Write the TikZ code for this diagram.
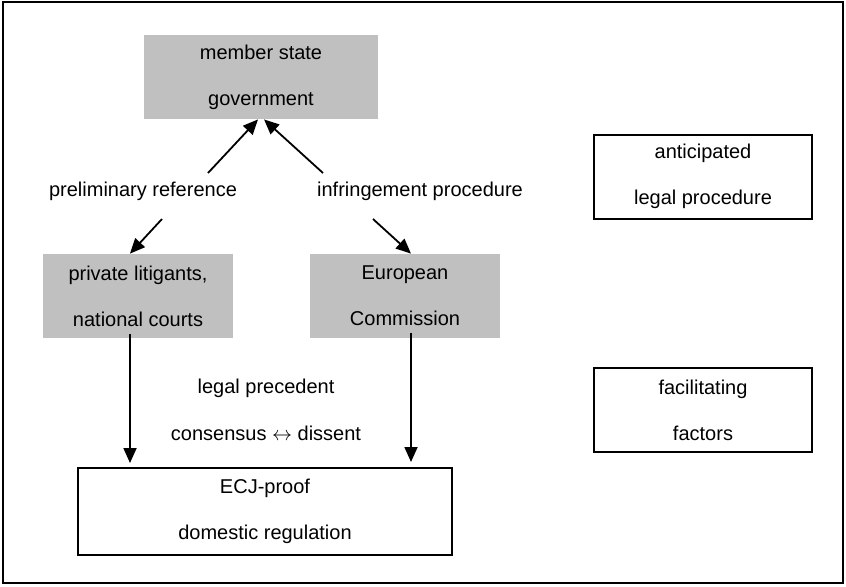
\documentclass[tikz,border=0pt]{standalone}
\usepackage{fontspec}
\setmainfont{Liberation Sans}
\usetikzlibrary{arrows.meta}
\definecolor{boxgray}{HTML}{C0C0C0}
\begin{document}
\begin{tikzpicture}[x=0.5pt,y=-0.5pt,
  txt/.style={font=\fontsize{10}{23}\selectfont, align=center, inner sep=0pt},
  graybox/.style={txt, fill=boxgray, minimum width=#1, minimum height=42pt},
  whitebox/.style={txt, draw=black, line width=1pt, fill=white, minimum height=42pt, minimum width=#1},
  arr/.style={line width=0.9pt, -{Triangle[length=7.5pt,width=6.5pt]}}]
\useasboundingbox (0,0) rectangle (846,586);
\draw[line width=1pt] (3,2) rectangle (843,583);

\node[graybox=117pt] (mem) at (261,77) {member state\\government};
\node[whitebox=109pt] (ant) at (703,176.5) {anticipated\\legal procedure};
\node[graybox=95pt] (prv) at (138,296) {private litigants,\\national courts};
\node[graybox=95pt] (ec) at (405,296) {European\\Commission};
\node[whitebox=109pt] (fac) at (703,410) {facilitating\\factors};
\node[whitebox=187pt, minimum height=43.5pt] (ecj) at (265,511.5) {ECJ-proof\\domestic regulation};

\node[txt] (pr) at (143,191) {preliminary reference};
\node[txt] (ip) at (420,191) {infringement procedure};
\node[txt] (lp) at (266,388) {legal precedent};
\node[txt] (cd) at (266,433) {consensus $\leftrightarrow$ dissent};

\coordinate (prA) at (208,173);
\coordinate (prB) at (162,219);
\coordinate (ipA) at (323,173);
\coordinate (ipB) at (373,219);

\draw[arr] (prA) -- ([xshift=-1.5pt]mem.south);
\draw[arr] (ipA) -- ([xshift=1.5pt]mem.south);
\draw[arr] (prB) -- ([xshift=-4pt]prv.north);
\draw[arr] (ipB) -- ([xshift=3pt]ec.north);
\draw[arr] ([xshift=-4pt,yshift=2pt]prv.south) -- ([xshift=-4pt,yshift=2pt]prv.south |- ecj.north);
\draw[arr] ([xshift=3pt,yshift=2.5pt]ec.south) -- ([xshift=3pt,yshift=2.5pt]ec.south |- ecj.north);
\end{tikzpicture}
\end{document}
